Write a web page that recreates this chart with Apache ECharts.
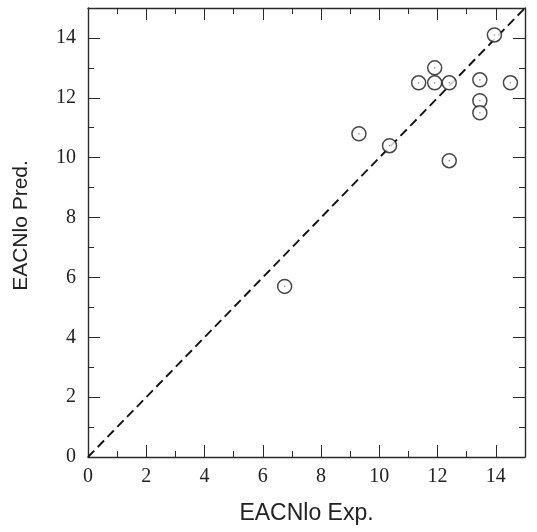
<!DOCTYPE html>
<html>
<head>
<meta charset="utf-8">
<script src="https://cdn.jsdelivr.net/npm/echarts@6/dist/echarts.min.js"></script>
<style>html,body{margin:0;padding:0;background:#fff;}#c{width:537px;height:532px;}</style>
</head>
<body>
<div id="c"></div>
<script>
const expValues  = [6.75, 9.3, 10.35, 11.35, 11.9, 11.9, 12.4, 12.4, 13.45, 13.45, 13.45, 13.95, 14.5];
const predValues = [5.7, 10.8, 10.4, 12.5, 12.5, 13.0, 12.5, 9.9, 12.6, 11.9, 11.5, 14.1, 12.5];
const identityLine = [[0, 0], [15, 15]];
const xTitle = 'EACNlo Exp.';
const yTitle = 'EACNlo Pred.';

const points = expValues.map((x, i) => [x, predValues[i]]);
const tickFont = {fontFamily: "'Liberation Serif', 'Times New Roman', Times, serif", fontSize: 20, color: '#222', showMaxLabel: false};
const sansFam = "'Liberation Sans', Arial, sans-serif";
const lineC = '#2a2a2a';
function axisBase(extra) {
  return Object.assign({
    type: 'value', min: 0, max: 15, interval: 2,
    axisLine: {show: true, onZero: false, lineStyle: {color: lineC, width: 1.4}},
    axisTick: {show: true, inside: true, length: 12, lineStyle: {color: lineC, width: 1}},
    minorTick: {show: true, splitNumber: 2, length: 6, lineStyle: {color: lineC, width: 1}},
    splitLine: {show: false}
  }, extra);
}
const chart = echarts.init(document.getElementById('c'), null, {renderer: 'canvas'});
chart.setOption({
  backgroundColor: '#fff',
  animation: false,
  grid: {left: 88, right: 12, top: 8, bottom: 75},
  xAxis: [
    axisBase({position: 'bottom', name: xTitle, nameLocation: 'middle', nameGap: 45,
      nameTextStyle: {fontFamily: sansFam, fontSize: 23, color: '#222'},
      axisLabel: Object.assign({margin: 10}, tickFont)}),
    axisBase({position: 'top', axisLabel: {show: false}})
  ],
  yAxis: [
    axisBase({position: 'left', name: yTitle, nameLocation: 'middle', nameGap: 56,
      nameTextStyle: {fontFamily: sansFam, fontSize: 21, color: '#222', padding: [0, 0, 0, 14]},
      axisLabel: Object.assign({margin: 12}, tickFont)}),
    axisBase({position: 'right', axisLabel: {show: false}})
  ],
  series: [
    {type: 'line', data: identityLine, symbol: 'none', silent: true,
      lineStyle: {color: '#111', width: 1.9, type: [9, 5]}, z: 2},
    {type: 'scatter', data: points, symbol: 'circle', symbolSize: 14,
      itemStyle: {color: '#fff', borderColor: '#1a1a1a', borderWidth: 1.5}, z: 3},
    {type: 'scatter', data: points, symbol: 'circle', symbolSize: 1.6, silent: true,
      itemStyle: {color: '#777'}, z: 4}
  ]
});
</script>
</body>
</html>
